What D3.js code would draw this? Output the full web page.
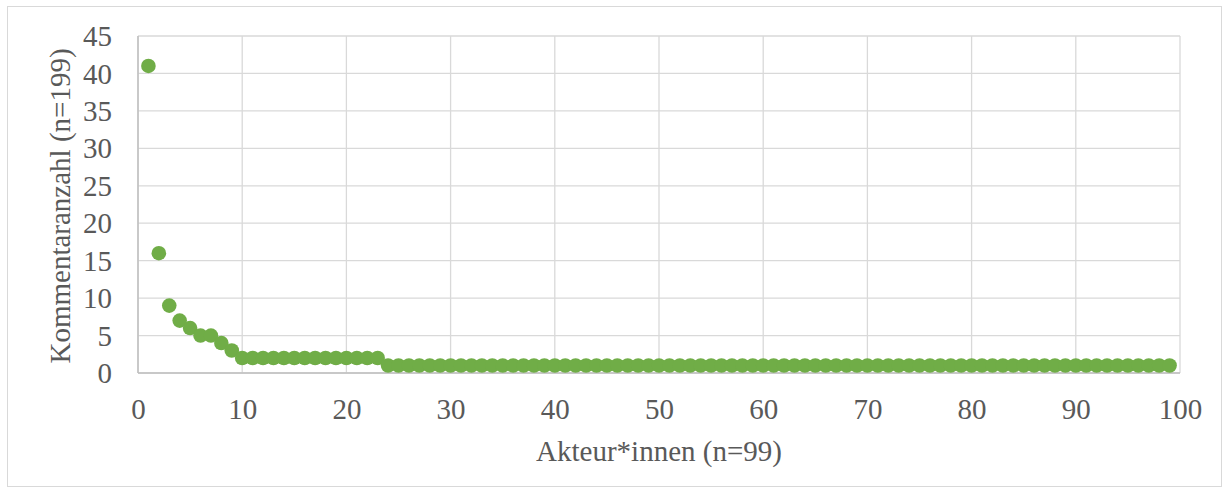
<!DOCTYPE html>
<html><head><meta charset="utf-8">
<script src="https://cdn.jsdelivr.net/npm/d3@7"></script>
<style>body{margin:0;background:#fff}</style>
</head><body><svg id="c" width="1229" height="494"></svg>
<script>
const xTicks = [0,10,20,30,40,50,60,70,80,90,100];
const yTicks = [0,5,10,15,20,25,30,35,40,45];
const actors = [1,2,3,4,5,6,7,8,9,10,11,12,13,14,15,16,17,18,19,20,
  21,22,23,24,25,26,27,28,29,30,31,32,33,34,35,36,37,38,39,40,
  41,42,43,44,45,46,47,48,49,50,51,52,53,54,55,56,57,58,59,60,
  61,62,63,64,65,66,67,68,69,70,71,72,73,74,75,76,77,78,79,80,
  81,82,83,84,85,86,87,88,89,90,91,92,93,94,95,96,97,98,99];
const counts = [41,16,9,7,6,5,5,4,3,2,2,2,2,2,2,2,2,2,2,2,
  2,2,2,1,1,1,1,1,1,1,1,1,1,1,1,1,1,1,1,1,
  1,1,1,1,1,1,1,1,1,1,1,1,1,1,1,1,1,1,1,1,
  1,1,1,1,1,1,1,1,1,1,1,1,1,1,1,1,1,1,1,1,
  1,1,1,1,1,1,1,1,1,1,1,1,1,1,1,1,1,1,1];
const xTitle = "Akteur*innen (n=99)";
const yTitle = "Kommentaranzahl (n=199)";

const svg = d3.select("#c");
const font = "'Liberation Serif','Times New Roman',serif";
const fs = 29;
svg.append("rect").attr("x",7.5).attr("y",6.5).attr("width",1214).attr("height",480)
  .attr("fill","#fff").attr("stroke","#d9d9d9");
const x = d3.scaleLinear().domain([0,100]).range([138,1180]);
const y = d3.scaleLinear().domain([0,45]).range([373,36]);

const g = svg.append("g");
g.selectAll(".vg").data(xTicks).join("line").attr("x1",d=>x(d)).attr("x2",d=>x(d))
  .attr("y1",y(0)).attr("y2",y(45)).attr("stroke","#d9d9d9").attr("stroke-width",1.3);
g.selectAll(".hg").data(yTicks).join("line").attr("x1",x(0)).attr("x2",x(100))
  .attr("y1",d=>y(d)).attr("y2",d=>y(d)).attr("stroke","#d9d9d9").attr("stroke-width",1.3);
g.append("line").attr("x1",x(0)).attr("x2",x(0)).attr("y1",y(0)).attr("y2",y(45)).attr("stroke","#bfbfbf").attr("stroke-width",1.5);
g.append("line").attr("x1",x(0)).attr("x2",x(100)).attr("y1",y(0)).attr("y2",y(0)).attr("stroke","#bfbfbf").attr("stroke-width",1.5);

const xa = svg.append("g").attr("transform",`translate(0,${y(0)})`)
  .call(d3.axisBottom(x).tickValues(xTicks).tickSize(0).tickPadding(0));
const ya = svg.append("g").attr("transform",`translate(${x(0)},0)`)
  .call(d3.axisLeft(y).tickValues(yTicks).tickSize(0).tickPadding(26));
[xa,ya].forEach(a=>{a.select(".domain").remove();
  a.selectAll("text").attr("font-family",font).attr("font-size",fs).attr("fill","#595959");});
xa.selectAll("text").attr("dy",null).attr("y",46);
ya.selectAll("text").attr("dy","0.33em");

svg.selectAll(".pt").data(actors).join("circle")
  .attr("cx",d=>x(d)).attr("cy",(d,i)=>y(counts[i])).attr("r",7.3).attr("fill","#70ad47");

svg.append("text").attr("x",(x(0)+x(100))/2).attr("y",461).attr("text-anchor","middle")
  .attr("font-family",font).attr("font-size",fs).attr("fill","#595959").text(xTitle);
svg.append("text").attr("transform",`translate(70,206) rotate(-90)`).attr("text-anchor","middle")
  .attr("font-family",font).attr("font-size",fs).attr("fill","#595959").text(yTitle);
</script></body></html>
